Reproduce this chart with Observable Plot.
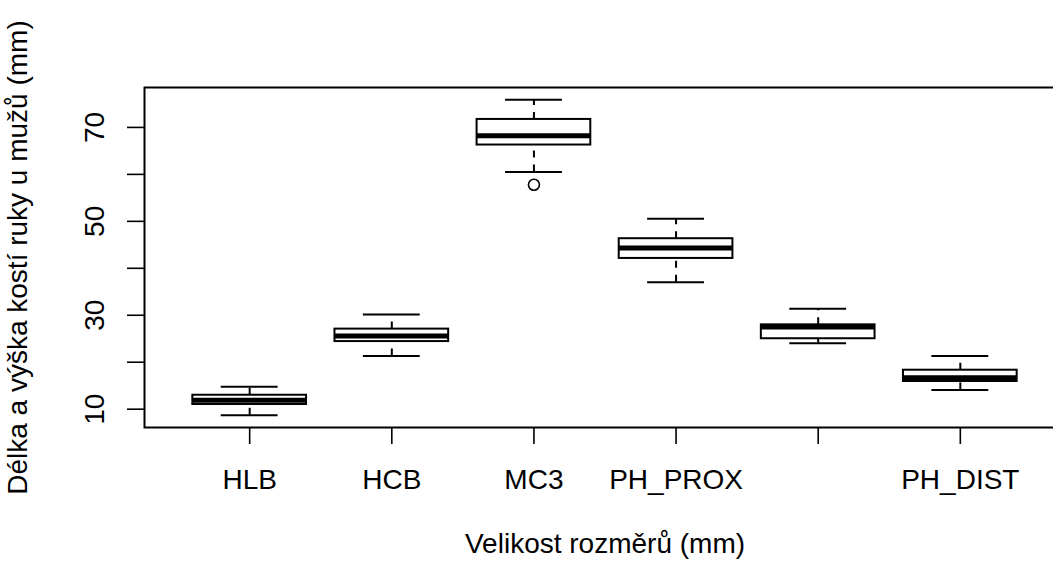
<!DOCTYPE html>
<html>
<head>
<meta charset="utf-8">
<script src="https://cdn.jsdelivr.net/npm/d3@7"></script>
<script src="https://cdn.jsdelivr.net/npm/@observablehq/plot@0.6"></script>
<style>
  html, body { margin: 0; padding: 0; background: #fff; overflow: hidden; }
  #chart svg { display: block; }
</style>
</head>
<body>
<div id="chart"></div>
<script>
// Category tick labels (the 5th label is not printed in the original)
const tickLabels = ["HLB", "HCB", "MC3", "PH_PROX", "", "PH_DIST"];
// Five-number summaries
const whiskerLow  = [8.7, 21.35, 60.5, 37.05, 24.05, 14.1];
const q1          = [11.0, 24.4, 66.25, 42.1, 25.0, 15.9];
const median      = [11.9, 25.6, 68.2, 44.3, 27.5, 16.7];
const q3          = [12.97, 27.05, 71.7, 46.3, 27.96, 18.3];
const whiskerHigh = [14.8, 30.15, 75.9, 50.55, 31.4, 21.35];
// Outliers: [group index (1-based), value]
const outlierGroup = [3];
const outlierValue = [57.8];
// Axis ticks
const yTicks = [10, 20, 30, 40, 50, 60, 70];
const yTickLabels = [10, 30, 50, 70];
const xTitle = "Velikost rozměrů (mm)";
const yTitle = "Délka a výška kostí ruky u mužů (mm)";

const boxes = tickLabels.map((lab, i) => ({
  pos: i + 1, lo: whiskerLow[i], q1: q1[i], med: median[i], q3: q3[i], hi: whiskerHigh[i]
}));
const outliers = outlierGroup.map((g, i) => ({pos: g, value: outlierValue[i]}));

const half = 0.4, staple = 0.2;
const font = "'Liberation Sans', Arial, sans-serif";
const fs = 28;

const chart = Plot.plot({
  width: 1053,
  height: 563,
  marginLeft: 144,
  marginTop: 87,
  marginBottom: 136,
  marginRight: -12,
  style: {fontFamily: font, fontSize: fs + "px", color: "#000", background: "#fff"},
  x: {domain: [0.26, 6.74], axis: null},
  y: {domain: [6.1, 78.5], axis: null},
  marks: [
    Plot.frame({stroke: "#000", strokeWidth: 2}),
    // whiskers
    Plot.ruleX(boxes, {x: "pos", y1: "q3", y2: "hi", stroke: "#000", strokeWidth: 2, strokeDasharray: "7,7"}),
    Plot.ruleX(boxes, {x: "pos", y1: "lo", y2: "q1", stroke: "#000", strokeWidth: 2, strokeDasharray: "7,7"}),
    Plot.ruleY(boxes, {y: "hi", x1: d => d.pos - staple, x2: d => d.pos + staple, stroke: "#000", strokeWidth: 2}),
    Plot.ruleY(boxes, {y: "lo", x1: d => d.pos - staple, x2: d => d.pos + staple, stroke: "#000", strokeWidth: 2}),
    // boxes
    Plot.rect(boxes, {x1: d => d.pos - half, x2: d => d.pos + half, y1: "q1", y2: "q3", fill: "#fff", stroke: "#000", strokeWidth: 2}),
    Plot.ruleY(boxes, {y: "med", x1: d => d.pos - half, x2: d => d.pos + half, stroke: "#000", strokeWidth: 5}),
    // outliers
    Plot.dot(outliers, {x: "pos", y: "value", r: 5.5, stroke: "#000", strokeWidth: 1.6, fill: "none"}),
    // axes
    Plot.axisX({
      ticks: tickLabels.map((d, i) => i + 1),
      tickFormat: d => tickLabels[d - 1],
      tickSize: 17, tickPadding: 25, strokeWidth: 1.6,
      fontSize: fs,
      label: xTitle, labelAnchor: "center", labelArrow: "none", labelOffset: 125
    }),
    Plot.axisY({
      ticks: yTicks,
      tickFormat: d => yTickLabels.includes(d) ? String(d) : "",
      tickSize: 17, tickPadding: 24, tickRotate: -90, strokeWidth: 1.6,
      fontSize: fs,
      label: yTitle, labelAnchor: "center", labelArrow: "none", labelOffset: 137
    })
  ]
});
document.getElementById("chart").appendChild(chart);
</script>
</body>
</html>
